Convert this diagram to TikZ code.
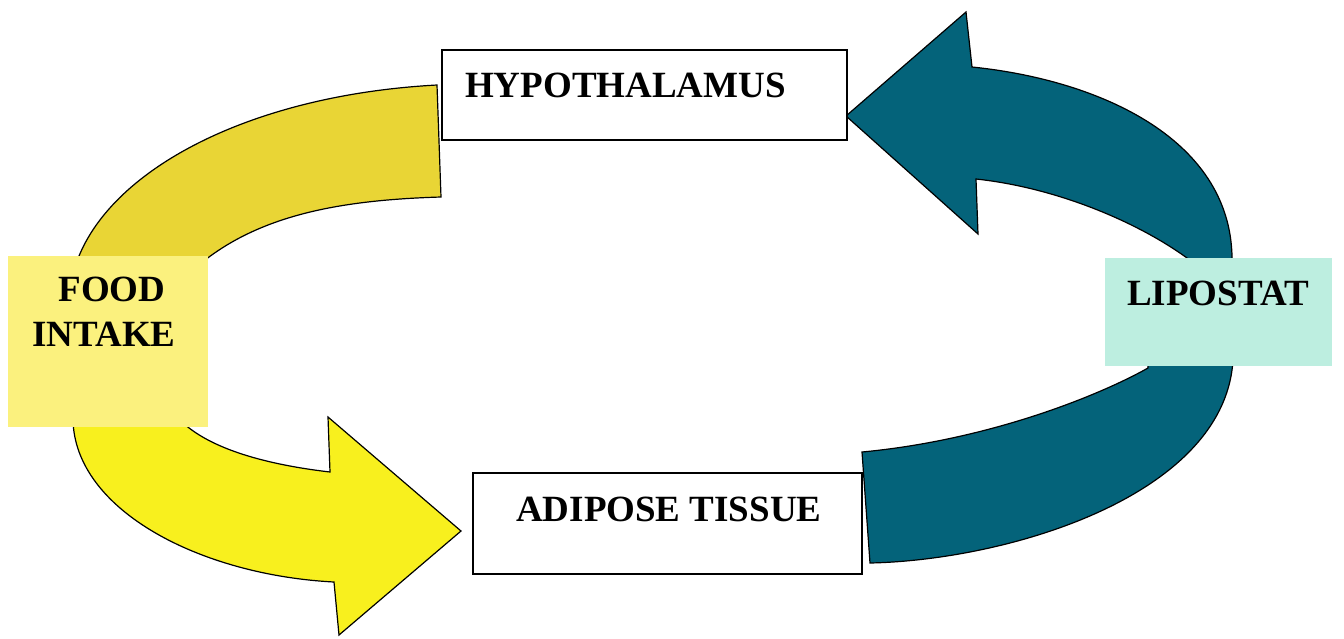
\documentclass[tikz,border=0pt]{standalone}
\usepackage{fontspec}
\setmainfont{Liberation Serif}
\definecolor{goldy}{HTML}{E9D535}
\definecolor{brighty}{HTML}{F8F01E}
\definecolor{foodfill}{HTML}{FBF17E}
\definecolor{lipofill}{HTML}{BDEEE0}
\definecolor{tealarrow}{HTML}{04637A}
\begin{document}
\begin{tikzpicture}[x=1pt,y=-1pt,
  whitebox/.style={draw=black,line width=1.6pt,fill=white,inner sep=0pt,anchor=north west},
  colbox/.style={draw=none,inner sep=0pt,anchor=north west},
  lbl/.style={inner sep=0pt,font=\bfseries\fontsize{37}{37}\selectfont},
  bandshape/.style={draw=black,line width=1.2pt,line join=miter}]
\useasboundingbox (0,0) rectangle (1344,638);
\fill[white] (0,0) rectangle (1344,638);

% top gold band (food intake -> hypothalamus)
\path[bandshape,fill=goldy] (76,264) .. controls (108,170) and (250,95) .. (437,85)
  -- (441,197) .. controls (340,200) and (260,215) .. (200,264) -- cycle;

% bottom bright yellow arrow (food intake -> adipose tissue)
\path[bandshape,fill=brighty] (73,420) .. controls (75,510) and (200,575) .. (334,582)
  -- (339,635) -- (461,531) -- (328,417) -- (330,472)
  .. controls (270,465) and (210,450) .. (180,420) -- cycle;

% teal lower band (adipose tissue -> lipostat)
\path[bandshape,fill=tealarrow] (862,452) -- (870,563)
  .. controls (1010,560) and (1225,495) .. (1233,360)
  -- (1148,360) -- (1148,368)
  .. controls (1100,395) and (990,440) .. (862,452) -- cycle;

% teal upper arrow (lipostat -> hypothalamus)
\path[bandshape,fill=tealarrow] (1232,264) .. controls (1235,140) and (1100,80) .. (972,67)
  -- (966,12) -- (846,116) -- (978,234) -- (976,179)
  .. controls (1060,188) and (1145,225) .. (1195,264) -- cycle;

% boxes
\node[whitebox,minimum width=405pt,minimum height=90pt] (hyp) at (441,49) {};
\node[whitebox,minimum width=389pt,minimum height=101pt] (adip) at (472,472) {};
\node[colbox,fill=foodfill,minimum width=200pt,minimum height=171pt] (food) at (8,256) {};
\node[colbox,fill=lipofill,minimum width=227pt,minimum height=108pt] (lipo) at (1105,258) {};

% labels
\node[lbl,anchor=base west] (hyptext) at (465,97.5) {HYPOTHALAMUS};
\node[lbl,anchor=base] (foodtext) at (112,301) {FOOD};
\node[lbl,anchor=base] (intaketext) at (104,346) {INTAKE};
\node[lbl,anchor=base west] (adiptext) at (516,521.5) {ADIPOSE TISSUE};
\node[lbl,anchor=base west] (lipotext) at (1127,305) {LIPOSTAT};
\end{tikzpicture}
\end{document}
